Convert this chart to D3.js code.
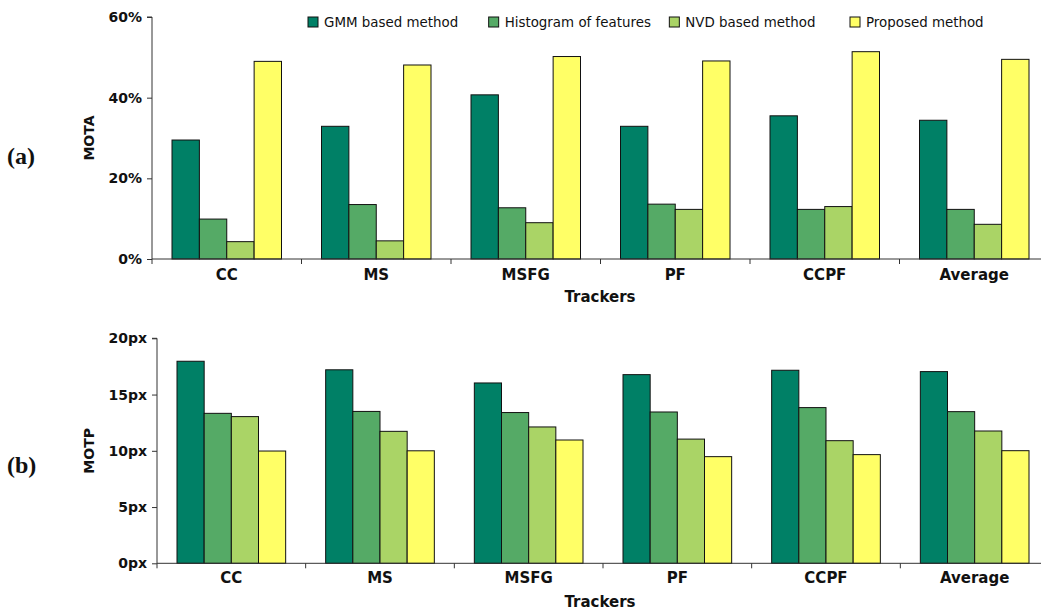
<!DOCTYPE html>
<html>
<head>
<meta charset="utf-8">
<script src="https://cdn.jsdelivr.net/npm/d3@7"></script>
<style>
  html, body { margin: 0; padding: 0; background: #fff; }
  svg { display: block; }
  text { font-family: "DejaVu Sans", sans-serif; }
  text.panel { font-family: "Liberation Serif", "DejaVu Serif", serif; }
</style>
</head>
<body>
<svg id="chart" width="1041" height="610"></svg>
<script>
// ---- data ----
const categories = ["CC", "MS", "MSFG", "PF", "CCPF", "Average"];
const seriesNames = ["GMM based method", "Histogram of features", "NVD based method", "Proposed method"];
const seriesColors = ["#008066", "#55aa66", "#aad466", "#ffff66"];

// MOTA (%)
const motaGMM      = [29.5, 32.9, 40.7, 32.9, 35.5, 34.4];
const motaHist     = [9.9, 13.5, 12.7, 13.6, 12.3, 12.3];
const motaNVD      = [4.3, 4.5, 9.0, 12.3, 13.0, 8.6];
const motaProposed = [49.0, 48.1, 50.2, 49.1, 51.4, 49.5];
const motaTicks    = [0, 20, 40, 60];

// MOTP (px)
const motpGMM      = [17.96, 17.2, 16.03, 16.77, 17.16, 17.04];
const motpHist     = [13.33, 13.5, 13.4, 13.45, 13.84, 13.48];
const motpNVD      = [13.04, 11.73, 12.12, 11.04, 10.9, 11.76];
const motpProposed = [9.98, 10.0, 10.96, 9.48, 9.66, 10.01];
const motpTicks    = [0, 5, 10, 15, 20];

const svg = d3.select("#chart");
const axisColor = "#333";

function drawPanel(cfg) {
  const { left, right, top, bottom, yMax, ticks, unit, values, yTitle, panelLabel,
          catLabelY, titleY, panelLabelY } = cfg;
  const x = d3.scaleBand().domain(categories).range([left, right]).paddingInner(0).paddingOuter(0);
  const pad = 20;
  const xs = d3.scaleBand().domain(seriesNames).range([pad, x.bandwidth() - pad]);
  const y = d3.scaleLinear().domain([0, yMax]).range([bottom, top]);

  const g = svg.append("g");

  // bars
  seriesNames.forEach((s, si) => {
    g.selectAll(null)
      .data(values[si].map((v, ci) => ({ c: categories[ci], v })))
      .join("rect")
      .attr("x", d => x(d.c) + xs(s))
      .attr("y", d => y(d.v))
      .attr("width", xs.bandwidth())
      .attr("height", d => y(0) - y(d.v))
      .attr("fill", seriesColors[si])
      .attr("stroke", "#111")
      .attr("stroke-width", 1);
  });

  // y axis
  const yAxis = d3.axisLeft(y).tickValues(ticks).tickSize(5).tickPadding(5)
    .tickFormat(d => d + unit);
  const ya = g.append("g").attr("transform", `translate(${left},0)`).call(yAxis);
  ya.select(".domain").attr("stroke", axisColor).attr("d", `M-5,${y(yMax)}H0V${y(0)}`);
  ya.selectAll(".tick line").attr("stroke", axisColor);
  ya.selectAll(".tick text")
    .style("font-family", "DejaVu Sans").attr("font-weight", "bold")
    .attr("font-size", 14).attr("fill", "#111");

  // x axis: line with ticks at band boundaries
  const xa = g.append("g");
  xa.append("line").attr("x1", left).attr("x2", right).attr("y1", y(0)).attr("y2", y(0))
    .attr("stroke", axisColor);
  xa.selectAll(".bt").data(categories).join("line")
    .attr("x1", d => x(d)).attr("x2", d => x(d))
    .attr("y1", y(0)).attr("y2", y(0) + 5).attr("stroke", axisColor);
  xa.selectAll(".cl").data(categories).join("text")
    .attr("x", d => x(d) + x.bandwidth() / 2)
    .attr("y", catLabelY)
    .attr("text-anchor", "middle")
    .attr("font-weight", "bold").attr("font-size", 15).attr("fill", "#111")
    .text(d => d);

  // axis titles
  g.append("text")
    .attr("x", 600)
    .attr("y", titleY)
    .attr("text-anchor", "middle")
    .attr("font-weight", "bold").attr("font-size", 15).attr("fill", "#111")
    .text("Trackers");

  g.append("text")
    .attr("transform", `translate(94,${(top + bottom) / 2}) rotate(-90)`)
    .attr("text-anchor", "middle")
    .attr("font-weight", "bold").attr("font-size", 14).attr("fill", "#111")
    .text(yTitle);

  g.append("text")
    .attr("class", "panel")
    .attr("x", 7).attr("y", panelLabelY)
    .attr("font-weight", "bold").attr("font-size", 24).attr("fill", "#111")
    .text(panelLabel);
}

drawPanel({
  left: 152, right: 1049, top: 17, bottom: 259, yMax: 60, ticks: motaTicks, unit: "%",
  values: [motaGMM, motaHist, motaNVD, motaProposed], yTitle: "MOTA", panelLabel: "(a)",
  catLabelY: 279.5, titleY: 302, panelLabelY: 164
});

drawPanel({
  left: 157, right: 1049, top: 338.3, bottom: 563.3, yMax: 20, ticks: motpTicks, unit: "px",
  values: [motpGMM, motpHist, motpNVD, motpProposed], yTitle: "MOTP", panelLabel: "(b)",
  catLabelY: 582.5, titleY: 606.5, panelLabelY: 473
});

// legend
const legendX = d3.scaleLinear().domain([0, 3]).range([308, 850]);
const lg = svg.append("g");
seriesNames.forEach((s, i) => {
  lg.append("rect")
    .attr("x", legendX(i)).attr("y", 17).attr("width", 10).attr("height", 10)
    .attr("fill", seriesColors[i]).attr("stroke", "#111");
  lg.append("text")
    .attr("x", legendX(i) + 16).attr("y", 27)
    .attr("font-size", 13.4).attr("fill", "#111")
    .text(s);
});
</script>
</body>
</html>
